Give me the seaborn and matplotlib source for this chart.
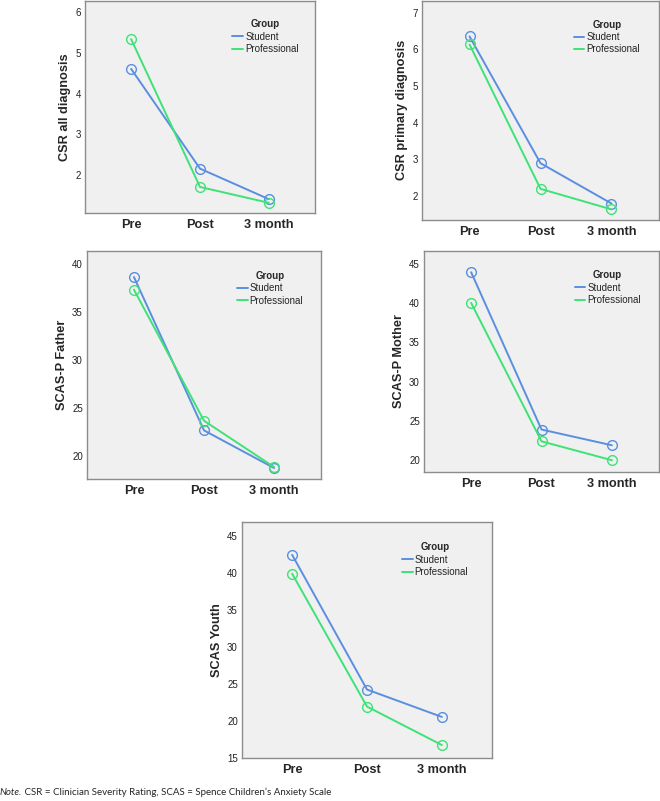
import pandas as pd
import matplotlib.pyplot as plt
import seaborn as sns
from matplotlib.lines import Line2D
from matplotlib.text import Annotation

timepoints = ["Pre", "Post", "3 month"]
groups = ["Student", "Professional"]

csr_all_student = [4.61, 2.16, 1.41]
csr_all_prof = [5.34, 1.71, 1.32]
csr_primary_student = [6.35, 2.89, 1.79]
csr_primary_prof = [6.13, 2.19, 1.63]
scasp_father_student = [38.6, 22.7, 18.8]
scasp_father_prof = [37.3, 23.7, 18.9]
scasp_mother_student = [43.9, 23.9, 21.9]
scasp_mother_prof = [40.0, 22.4, 20.0]
scas_youth_student = [42.4, 24.2, 20.5]
scas_youth_prof = [39.85, 21.9, 16.7]

colors = {"Student": "#5a8fe0", "Professional": "#3ee277"}

panels = [
    ("CSR all diagnosis", csr_all_student, csr_all_prof, (1.07, 6.29), [2, 3, 4, 5, 6],
     [85, 0.5, 315, 213]),
    ("CSR primary diagnosis", csr_primary_student, csr_primary_prof, (1.34, 7.33), [2, 3, 4, 5, 6, 7],
     [422, 0.5, 659, 220]),
    ("SCAS-P Father", scasp_father_student, scasp_father_prof, (17.66, 41.3), [20, 25, 30, 35, 40],
     [87, 251, 321, 479]),
    ("SCAS-P Mother", scasp_mother_student, scasp_mother_prof, (18.5, 46.6), [20, 25, 30, 35, 40, 45],
     [424, 251, 659, 472]),
    ("SCAS Youth", scas_youth_student, scas_youth_prof, (14.95, 46.84), [15, 20, 25, 30, 35, 40, 45],
     [242, 522, 492, 758]),
]

sns.set_style("white")
plt.rcParams["font.family"] = ["Liberation Sans", "DejaVu Sans"]

W, H = 660, 801
fig = plt.figure(figsize=(6.6, 8.01), dpi=100)

for label, stud, prof, ylim, yticks, (x0, y0, x1, y1) in panels:
    ax = fig.add_axes([x0 / W, 1 - y1 / H, (x1 - x0) / W, (y1 - y0) / H])
    df = pd.DataFrame({
        "Time": timepoints * 2,
        "Score": stud + prof,
        "Group": ["Student"] * 3 + ["Professional"] * 3,
    })
    sns.lineplot(data=df, x="Time", y="Score", hue="Group", hue_order=groups,
                 palette=colors, marker="o", markersize=7, markerfacecolor="none",
                 markeredgewidth=1.0, linewidth=1.4, legend=False, ax=ax)
    for ln, g in zip(ax.lines, groups):
        ln.set_markeredgecolor(colors[g])
    ax.set_facecolor("#f0f0f0")
    for s in ax.spines.values():
        s.set_color("#8c8c8c")
        s.set_linewidth(1.0)
    ax.set_xlim(-0.67, 2.67)
    ax.set_ylim(*ylim)
    ax.set_yticks(yticks)
    ax.set_xticks(range(3))
    ax.set_xticklabels(timepoints, fontsize=9.2, fontweight="bold")
    ax.tick_params(axis="y", length=0, labelsize=7, pad=3, labelcolor="#222222")
    ax.tick_params(axis="x", length=0, pad=4)
    ax.set_xlabel("")
    ax.set_ylabel(label, fontsize=9.2, fontweight="bold", labelpad=3)
    handles = [Line2D([], [], color=colors[g], linewidth=1.4) for g in groups]
    ax.legend(handles, groups, title="Group", loc="upper left",
              bbox_to_anchor=(0.62, 0.935), frameon=False, fontsize=7,
              title_fontproperties={"weight": "bold", "size": 7},
              handlelength=1.1, handletextpad=0.2, borderpad=0,
              labelspacing=0.25)

note = fig.text(0.0, 1 - 795 / H, "Note.", fontsize=7, style="italic",
                family=["Lato", "DejaVu Sans"])
rest = Annotation(" CSR = Clinician Severity Rating, SCAS = Spence Children\u2019s Anxiety Scale",
                  xy=(1, 0), xycoords=note, va="bottom", ha="left", fontsize=7,
                  family=["Lato", "DejaVu Sans"])
fig.add_artist(rest)

plt.savefig("out.png", dpi=100)
